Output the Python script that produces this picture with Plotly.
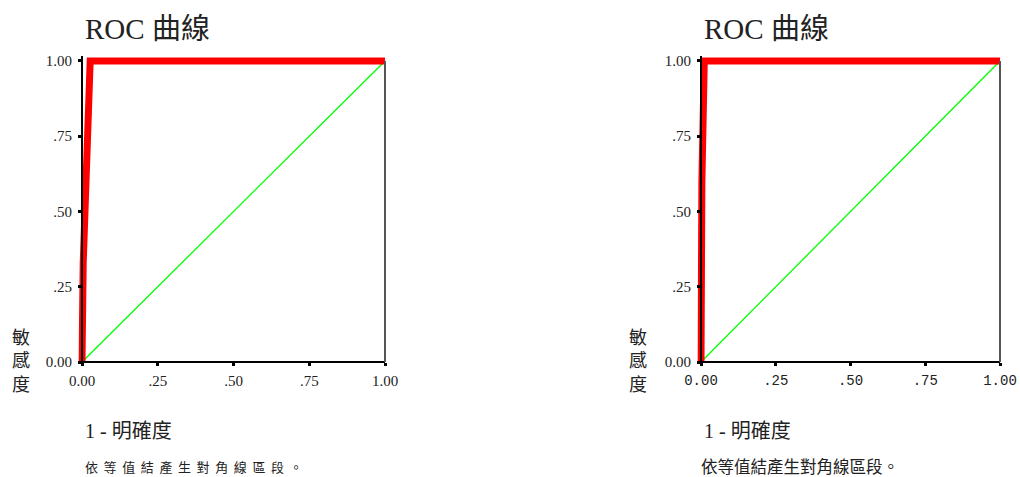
import plotly.graph_objects as go

# ---- data ----
ticks = [0, 0.25, 0.5, 0.75, 1.0]
tick_labels = ["0.00", ".25", ".50", ".75", "1.00"]
tick_labels_y = ["0.00", ".25", ".50", ".75", "1.00"]

roc1_fpr = [0, 0.004, 0.027, 1.0]
roc1_tpr = [0, 0.33, 1.0, 1.0]
roc2_fpr = [0, 0.003, 0.011, 1.0]
roc2_tpr = [0, 0.6, 1.0, 1.0]
ref_x = [0, 1]
ref_y = [0, 1]

title_text = "ROC 曲線"
x_title = "1 - 明確度"
y_title = "敏<br>感<br>度"
footnote = "依等值結產生對角線區段。"

W, H = 1020, 477
SERIF = "Liberation Serif, Noto Sans CJK TC"
CJK = "Noto Sans CJK TC"
TXT = "#222222"

def px(x):
    return x / W

def py(y):
    return 1 - y / H

# pixel geometry of the two plots (data 0 and 1)
y0p, y1p = 362, 61
ylo, yhi = -0.012, 1.015
yunit = (y0p - y1p)
ydom = [py(y0p - ylo * yunit), py(y1p - (yhi - 1) * yunit)]

plots = [
    dict(x0=82, x1=385, fpr=roc1_fpr, tpr=roc1_tpr, mono=False),
    dict(x0=701, x1=1000, fpr=roc2_fpr, tpr=roc2_tpr, mono=True),
]

fig = go.Figure()
for i, p in enumerate(plots, start=1):
    xlo = -0.012
    xunit = p["x1"] - p["x0"]
    xdom = [px(p["x0"] + xlo * xunit), px(p["x1"])]
    xa = "x" if i == 1 else f"x{i}"
    ya = "y" if i == 1 else f"y{i}"
    fig.add_trace(go.Scatter(x=ref_x, y=ref_y, mode="lines",
                             line=dict(color="#00ff00", width=1.3),
                             xaxis=xa, yaxis=ya, showlegend=False, hoverinfo="skip"))
    fig.add_trace(go.Scatter(x=p["fpr"], y=p["tpr"], mode="lines",
                             line=dict(color="#ff0000", width=7),
                             xaxis=xa, yaxis=ya, showlegend=False))
    xkey = "xaxis" if i == 1 else f"xaxis{i}"
    ykey = "yaxis" if i == 1 else f"yaxis{i}"
    xtickfont = dict(family="Liberation Mono", size=14, color=TXT) if p["mono"] \
        else dict(family="Liberation Serif", size=15, color=TXT)
    fig.update_layout(**{
        xkey: dict(domain=xdom, range=[xlo, 1.0], anchor="free", position=py(y0p),
                   tickvals=ticks, ticktext=tick_labels, tickfont=xtickfont,
                   ticks="outside", ticklen=3, tickwidth=3, tickcolor="black",
                   ticklabelstandoff=2,
                   showline=True, linecolor="black", linewidth=2, automargin=False,
                   showgrid=False, zeroline=False, fixedrange=True),
        ykey: dict(domain=ydom, range=[ylo, yhi], anchor="free", position=px(p["x0"]),
                   tickvals=ticks, ticktext=tick_labels_y,
                   tickfont=dict(family="Liberation Serif", size=15, color=TXT),
                   ticks="outside", ticklen=3, tickwidth=3, tickcolor="black",
                   ticklabelstandoff=3,
                   showline=True, linecolor="black", linewidth=2, automargin=False,
                   showgrid=False, zeroline=False, fixedrange=True),
    })
    # right frame edge
    fig.add_shape(type="line", xref="paper", yref="paper",
                  x0=px(p["x1"]), x1=px(p["x1"]), y0=py(y0p), y1=py(y1p),
                  line=dict(color="#555555", width=2))
    # title
    fig.add_annotation(text=title_text, xref="paper", yref="paper",
                       x=px(p["x0"] + 1), y=py(29), xanchor="left", yanchor="middle",
                       showarrow=False, font=dict(family=SERIF, size=29, color=TXT))
    # x title
    fig.add_annotation(text=x_title, xref="paper", yref="paper",
                       x=px(p["x0"] + 1), y=py(431), xanchor="left", yanchor="middle",
                       showarrow=False, font=dict(family=SERIF, size=20, color=TXT))
    # y title
    ycx = 21 if i == 1 else 638
    fig.add_annotation(text=y_title, xref="paper", yref="paper",
                       x=px(ycx), y=py(359), xanchor="center", yanchor="middle",
                       showarrow=False, align="center",
                       font=dict(family=CJK, size=18, color=TXT))
    # footnote
    if i == 1:
        fn = '<span style="letter-spacing:5.6px">' + footnote + '</span>'
        fsize = 13
        fx = p["x0"] + 1
    else:
        fn = footnote
        fsize = 16.5
        fx = p["x0"] - 2
    fig.add_annotation(text=fn, xref="paper", yref="paper",
                       x=px(fx), y=py(466), xanchor="left", yanchor="middle",
                       showarrow=False, font=dict(family=CJK, size=fsize, color=TXT))

fig.update_layout(width=W, height=H,
                  margin=dict(l=0, r=0, t=0, b=0, pad=0, autoexpand=False),
                  paper_bgcolor="white", plot_bgcolor="white")
fig.write_html("out.html",
               config={"displayModeBar": False},
               post_script="document.body.style.margin='0';document.body.style.overflow='hidden';")
